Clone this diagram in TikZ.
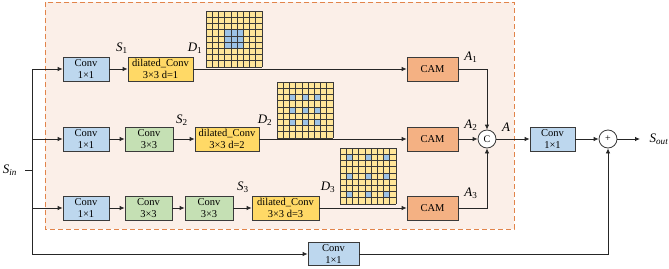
\documentclass[tikz,border=0pt]{standalone}
\usepackage{fontspec}
\setmainfont{Liberation Serif}
\usetikzlibrary{arrows.meta}
\definecolor{bluebox}{HTML}{BDD7EE}
\definecolor{greenbox}{HTML}{C5E0B4}
\definecolor{yellowbox}{HTML}{FFD966}
\definecolor{orangebox}{HTML}{F4B183}
\definecolor{peach}{HTML}{FBEFE8}
\definecolor{dashorange}{HTML}{E2844A}
\definecolor{cellyellow}{HTML}{FFE699}
\definecolor{cellblue}{HTML}{9DC3E6}
\definecolor{edgecol}{HTML}{3A3A3A}
\tikzset{
  blk/.style={draw=edgecol,line width=0.8pt,minimum height=24pt,inner sep=0pt,align=center,
    font=\fontsize{10.5}{12.5}\selectfont},
  convb/.style={blk,fill=bluebox},
  convg/.style={blk,fill=greenbox},
  dil/.style={blk,fill=yellowbox},
  cam/.style={blk,fill=orangebox,minimum width=51pt,minimum height=24pt},
  opc/.style={circle,draw=edgecol,line width=0.8pt,fill=white,minimum size=18pt,inner sep=0pt,
    font=\fontsize{10}{12}\selectfont},
  lab/.style={inner sep=0pt,font=\fontsize{13}{15}\selectfont},
  conn/.style={line width=0.8pt,draw=black!85},
  arr/.style={conn,-{Latex[length=5pt,width=4.5pt]}}
}
\newcommand{\gridD}[3]{% x0,y0, blue cells list (i/j)
  \begin{scope}[shift={(#1,#2)}]
    \fill[cellyellow] (0,0) rectangle (55.8,55.8);
    \foreach \i/\j in {#3} {\fill[cellblue] (\i*6.2,\j*6.2) rectangle ++(6.2,6.2);}
    \foreach \k in {0,...,9} {
      \draw[edgecol,line width=0.45pt] (\k*6.2,0) -- (\k*6.2,55.8);
      \draw[edgecol,line width=0.45pt] (0,\k*6.2) -- (55.8,\k*6.2);
    }
  \end{scope}}
\begin{document}
\begin{tikzpicture}[x=1pt,y=-1pt]
\useasboundingbox (0,0) rectangle (669,268);
% dashed area
\draw[dashorange,fill=peach,line width=0.9pt,dash pattern=on 5pt off 3pt] (45,2) rectangle (514,229);
% grids
\gridD{206}{11}{3/3,4/3,5/3,3/4,4/4,5/4,3/5,4/5,5/5}
\gridD{277}{82}{2/2,4/2,6/2,2/4,4/4,6/4,2/6,4/6,6/6}
\gridD{340}{148}{1/1,4/1,7/1,1/4,4/4,7/4,1/7,4/7,7/7}
% row 1
\node[convb,minimum width=46pt] (c11) at (86,69) {Conv\\1×1};
\node[dil,minimum width=65pt] (d1) at (160.5,69) {dilated\_Conv\\3×3 d=1};
\node[cam] (cam1) at (432.5,69) {CAM};
% row 2
\node[convb,minimum width=46pt] (c21) at (86,139) {Conv\\1×1};
\node[convg,minimum width=48pt] (c22) at (149,139) {Conv\\3×3};
\node[dil,minimum width=64pt] (d2) at (227,139) {dilated\_Conv\\3×3 d=2};
\node[cam] (cam2) at (432.5,139) {CAM};
% row 3
\node[convb,minimum width=46pt] (c31) at (86,208) {Conv\\1×1};
\node[convg,minimum width=47pt] (c32) at (148.5,208) {Conv\\3×3};
\node[convg,minimum width=48pt] (c33) at (209,208) {Conv\\3×3};
\node[dil,minimum width=67pt] (d3) at (285.5,208) {dilated\_Conv\\3×3 d=3};
\node[cam] (cam3) at (432.5,208) {CAM};
% bottom and right
\node[convb,minimum width=51pt,minimum height=23pt] (cb) at (333.5,254) {Conv\\1×1};
\node[opc] (cat) at (487,139) {C};
\node[convb,minimum width=45pt] (co) at (552.5,139) {Conv\\1×1};
\node[opc] (plus) at (608,139) {+};
% labels
\node[lab] (ls1) at (122,48) {\textit{S}\textsubscript{1}};
\node[lab] (ld1) at (195,48) {\textit{D}\textsubscript{1}};
\node[lab] (ls2) at (182,120) {\textit{S}\textsubscript{2}};
\node[lab] (ld2) at (265,120) {\textit{D}\textsubscript{2}};
\node[lab] (ls3) at (243,187) {\textit{S}\textsubscript{3}};
\node[lab] (ld3) at (328,187) {\textit{D}\textsubscript{3}};
\node[lab] (la1) at (471,57) {\textit{A}\textsubscript{1}};
\node[lab] (la2) at (471,125) {\textit{A}\textsubscript{2}};
\node[lab] (la3) at (471,193) {\textit{A}\textsubscript{3}};
\node[lab] (la) at (506,127) {\textit{A}};
\node[lab] (sin) at (10,170) {\textit{S\textsubscript{in}}};
\node[lab] (sout) at (659,139) {\textit{S\textsubscript{out}}};
% coordinates
\coordinate (s0) at (25,170);
\coordinate (s1) at (32,170);
\coordinate (j1) at (32,69);
\coordinate (j2) at (32,139);
\coordinate (j3) at (32,208);
\coordinate (jb) at (32,254);
\coordinate (oe) at (640,139);
% connectors
\draw[conn] (s0) -- (s1);
\draw[conn] (j1) -- (jb);
\draw[arr] (j1) -- (c11.west);
\draw[arr] (j2) -- (c21.west);
\draw[arr] (j3) -- (c31.west);
\draw[arr] (jb) -- (cb.west);
\draw[arr] (c11) -- (d1);
\draw[arr] (d1) -- (cam1);
\draw[arr] (c21) -- (c22);
\draw[arr] (c22) -- (d2);
\draw[arr] (d2) -- (cam2);
\draw[arr] (c31) -- (c32);
\draw[arr] (c32) -- (c33);
\draw[arr] (c33) -- (d3);
\draw[arr] (d3) -- (cam3);
\draw[arr] (cam1.east) -| (cat.north);
\draw[arr] (cam3.east) -| (cat.south);
\draw[arr] (cam2) -- (cat);
\draw[arr] (cat) -- (co);
\draw[arr] (co) -- (plus);
\draw[arr] (plus) -- (oe);
\draw[arr] (cb.east) -| (plus.south);
\end{tikzpicture}
\end{document}
